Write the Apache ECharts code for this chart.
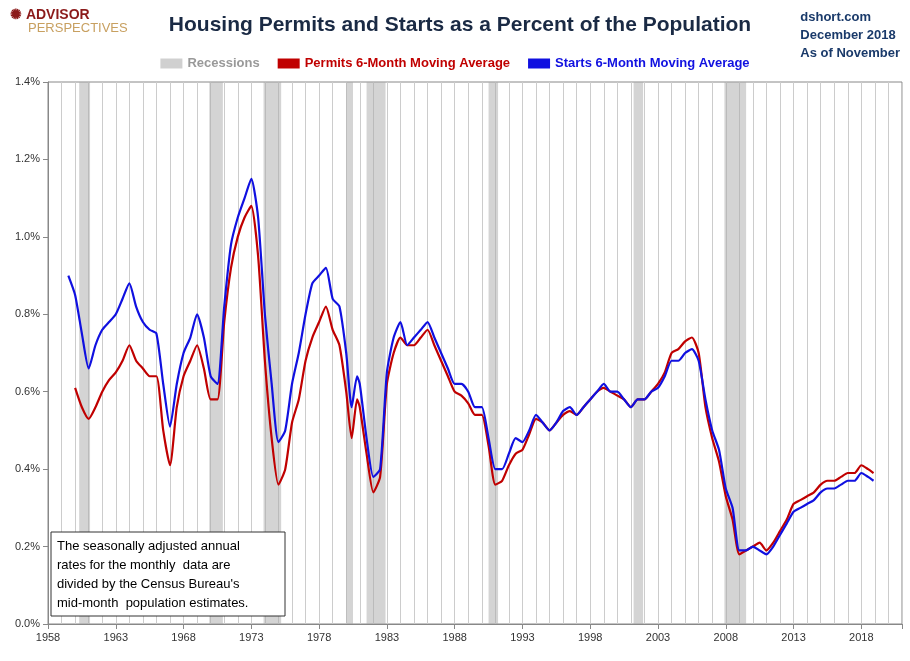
<!DOCTYPE html><html><head><meta charset="utf-8"><script src="https://cdn.jsdelivr.net/npm/echarts@6/dist/echarts.min.js"></script>
<style>html,body{margin:0;padding:0;background:#fff}#c{width:910px;height:661px}</style></head><body><div id="c"></div>
<script>
const startYears=[1959.5,1960,1960.5,1961,1961.5,1962,1962.5,1963,1963.5,1964,1964.5,1965,1965.5,1966,1966.5,1967,1967.5,1968,1968.5,1969,1969.5,1970,1970.5,1971,1971.5,1972,1972.5,1973,1973.5,1974,1974.5,1975,1975.5,1976,1976.5,1977,1977.5,1978,1978.5,1979,1979.5,1980,1980.4,1980.8,1981,1981.5,1982,1982.5,1983,1983.5,1984,1984.5,1985,1985.5,1986,1986.5,1987,1987.5,1988,1988.5,1989,1989.5,1990,1990.5,1991,1991.5,1992,1992.5,1993,1993.5,1994,1994.5,1995,1995.5,1996,1996.5,1997,1997.5,1998,1998.5,1999,1999.5,2000,2000.5,2001,2001.5,2002,2002.5,2003,2003.5,2004,2004.5,2005,2005.5,2006,2006.5,2007,2007.5,2008,2008.5,2009,2009.5,2010,2010.5,2011,2011.5,2012,2012.5,2013,2013.5,2014,2014.5,2015,2015.5,2016,2016.5,2017,2017.5,2018,2018.5,2018.9];
const startsVals=[0.90,0.85,0.75,0.66,0.72,0.76,0.78,0.80,0.84,0.88,0.82,0.78,0.76,0.75,0.62,0.51,0.62,0.70,0.74,0.80,0.74,0.64,0.62,0.82,0.98,1.05,1.10,1.15,1.05,0.80,0.62,0.47,0.50,0.62,0.70,0.80,0.88,0.90,0.92,0.84,0.82,0.70,0.56,0.64,0.62,0.48,0.38,0.40,0.65,0.74,0.78,0.72,0.74,0.76,0.78,0.74,0.70,0.66,0.62,0.62,0.60,0.56,0.56,0.48,0.40,0.40,0.44,0.48,0.47,0.50,0.54,0.52,0.50,0.52,0.55,0.56,0.54,0.56,0.58,0.60,0.62,0.60,0.60,0.58,0.56,0.58,0.58,0.60,0.61,0.64,0.68,0.68,0.70,0.71,0.68,0.58,0.50,0.45,0.35,0.30,0.19,0.19,0.20,0.19,0.18,0.20,0.23,0.26,0.29,0.30,0.31,0.32,0.34,0.35,0.35,0.36,0.37,0.37,0.39,0.38,0.37];
const permitYears=[1960,1960.5,1961,1961.5,1962,1962.5,1963,1963.5,1964,1964.5,1965,1965.5,1966,1966.5,1967,1967.5,1968,1968.5,1969,1969.5,1970,1970.5,1971,1971.5,1972,1972.5,1973,1973.5,1974,1974.5,1975,1975.5,1976,1976.5,1977,1977.5,1978,1978.5,1979,1979.5,1980,1980.4,1980.8,1981,1981.5,1982,1982.5,1983,1983.5,1984,1984.5,1985,1985.5,1986,1986.5,1987,1987.5,1988,1988.5,1989,1989.5,1990,1990.5,1991,1991.5,1992,1992.5,1993,1993.5,1994,1994.5,1995,1995.5,1996,1996.5,1997,1997.5,1998,1998.5,1999,1999.5,2000,2000.5,2001,2001.5,2002,2002.5,2003,2003.5,2004,2004.5,2005,2005.5,2006,2006.5,2007,2007.5,2008,2008.5,2009,2009.5,2010,2010.5,2011,2011.5,2012,2012.5,2013,2013.5,2014,2014.5,2015,2015.5,2016,2016.5,2017,2017.5,2018,2018.5,2018.9];
const permitsVals=[0.61,0.56,0.53,0.56,0.60,0.63,0.65,0.68,0.72,0.68,0.66,0.64,0.64,0.50,0.41,0.56,0.64,0.68,0.72,0.66,0.58,0.58,0.78,0.92,1.00,1.05,1.08,0.95,0.68,0.48,0.36,0.40,0.52,0.58,0.68,0.74,0.78,0.82,0.76,0.72,0.60,0.48,0.58,0.56,0.44,0.34,0.38,0.62,0.70,0.74,0.72,0.72,0.74,0.76,0.72,0.68,0.64,0.60,0.59,0.57,0.54,0.54,0.46,0.36,0.37,0.41,0.44,0.45,0.49,0.53,0.52,0.50,0.52,0.54,0.55,0.54,0.56,0.58,0.60,0.61,0.60,0.59,0.58,0.56,0.58,0.58,0.60,0.62,0.65,0.70,0.71,0.73,0.74,0.70,0.56,0.48,0.42,0.33,0.27,0.18,0.19,0.20,0.21,0.19,0.21,0.24,0.27,0.31,0.32,0.33,0.34,0.36,0.37,0.37,0.38,0.39,0.39,0.41,0.40,0.39];
const recessions=[[1960.3,1961.1],[1969.9,1970.9],[1973.9,1975.2],[1980.0,1980.5],[1981.5,1982.9],[1990.5,1991.2],[2001.2,2001.9],[2007.9,2009.5]];
const chart=echarts.init(document.getElementById('c'));
const zip=(a,b)=>a.map((x,i)=>[x,b[i]]);
chart.setOption({
 animation:false,
 grid:{left:48,right:8,top:82,bottom:37,show:true,borderColor:'#888',borderWidth:1,backgroundColor:'transparent'},
 title:{text:'Housing Permits and Starts as a Percent of the Population',left:455,textAlign:'center',top:10,textStyle:{fontFamily:'Liberation Sans',fontSize:21,fontWeight:'bold',color:'#1a2a44'}},
 legend:{top:52,left:'center',itemGap:18,textStyle:{fontFamily:'Liberation Sans',fontSize:13,fontWeight:'bold'},
  data:[{name:'Recessions',icon:'rect',textStyle:{color:'#999'}},{name:'Permits 6-Month Moving Average',icon:'rect',itemHeight:2,textStyle:{color:'#c00000'}},{name:'Starts 6-Month Moving Average',icon:'rect',itemHeight:2,textStyle:{color:'#1010e0'}}],itemWidth:22,itemHeight:10},
 xAxis:{type:'value',min:1958,max:2021,interval:5,axisLabel:{formatter:v=>v<=2018?String(v):'',fontSize:11,color:'#333',fontFamily:'Liberation Sans'},
  minorTick:{show:false},minorSplitLine:{show:true,lineStyle:{color:'#ccc'}},splitLine:{lineStyle:{color:'#ccc'}},axisLine:{lineStyle:{color:'#888'}},axisTick:{show:true}},
 yAxis:{type:'value',min:0,max:1.4,interval:0.2,axisLabel:{formatter:v=>v.toFixed(1)+'%',fontSize:11,color:'#333',fontFamily:'Liberation Sans'},splitLine:{show:false},axisLine:{show:true,lineStyle:{color:'#888'}}},
 series:[
  {name:'Recessions',type:'line',data:[],itemStyle:{color:'#d0d0d0'},lineStyle:{color:'#d0d0d0'},
   markArea:{silent:true,itemStyle:{color:'rgba(170,170,170,0.5)'},data:recessions.map(r=>[{xAxis:r[0]},{xAxis:r[1]}])}},
  {name:'Permits 6-Month Moving Average',type:'line',smooth:0.2,showSymbol:false,data:zip(permitYears,permitsVals),lineStyle:{color:'#c00000',width:2.2},itemStyle:{color:'#c00000'}},
  {name:'Starts 6-Month Moving Average',type:'line',smooth:0.2,showSymbol:false,data:zip(startYears,startsVals),lineStyle:{color:'#1010e0',width:2.2},itemStyle:{color:'#1010e0'}}
 ],
 graphic:[
  {type:'text',left:10,top:8,style:{text:'✺ ADVISOR',fill:'#8b1a1a',font:'bold 14px Liberation Sans'}},
  {type:'text',left:28,top:22,style:{text:'PERSPECTIVES',fill:'#c8a060',font:'13px Liberation Sans'}},
  {type:'text',right:10,top:8,style:{text:'dshort.com\nDecember 2018\nAs of November',fill:'#1a3a6a',font:'bold 13px Liberation Sans',align:'right',lineHeight:18}},
  {type:'rect',z:100,shape:{x:51,y:532,width:234,height:84},style:{fill:'#fff',stroke:'#333',lineWidth:1}},
  {type:'text',z:101,x:57,y:537,style:{text:"The seasonally adjusted annual\nrates for the monthly  data are\ndivided by the Census Bureau's\nmid-month  population estimates.",fill:'#000',font:'13px Liberation Sans',lineHeight:19}}
 ]
});
</script></body></html>
